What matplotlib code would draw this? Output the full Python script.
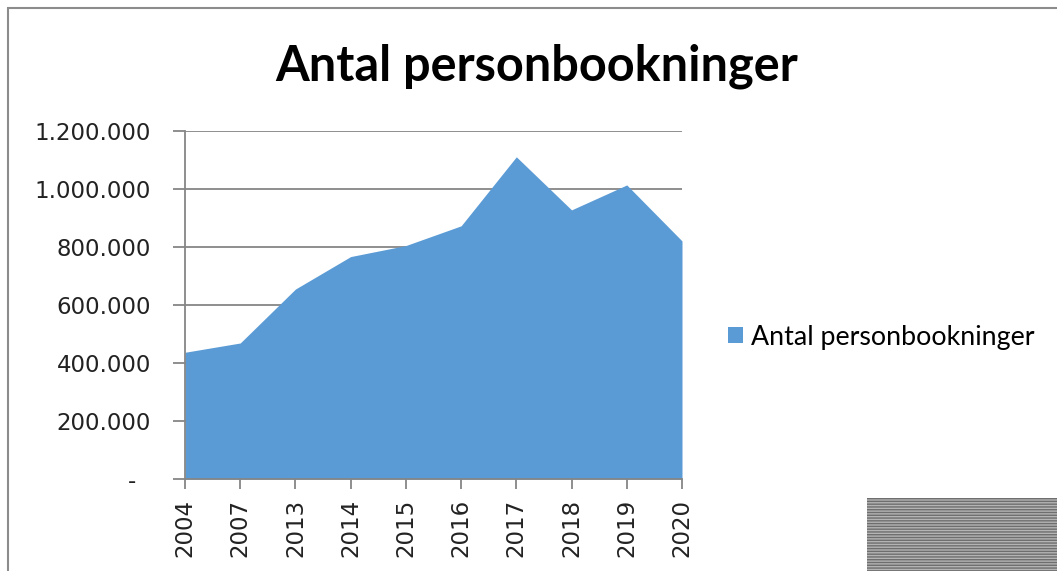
import matplotlib
matplotlib.use('Agg')
import matplotlib.pyplot as plt
from matplotlib.patches import Rectangle, Patch
from matplotlib.ticker import FuncFormatter

years = ['2004', '2007', '2013', '2014', '2015', '2016', '2017', '2018', '2019', '2020']
bookings = [437000, 469000, 655000, 767000, 805000, 873000, 1111000, 928000, 1014000, 821000]
y_ticks = [0, 200000, 400000, 600000, 800000, 1000000, 1200000]
title = 'Antal personbookninger'
series_name = 'Antal personbookninger'

fill_color = '#5B9BD5'
grid_color = '#868686'

W, H = 1057, 571
fig = plt.figure(figsize=(W / 100, H / 100), dpi=100)

# outer chart frame (only top and left visible in the crop)
fig.patches.append(Rectangle((8 / W, -0.1), 1.2, 1 - 8 / H + 0.1, transform=fig.transFigure,
                             fill=False, edgecolor='#8c8c8c', linewidth=1.5))
# striped block in the bottom right corner
fig.patches.append(Rectangle((867 / W, 0), 1 - 867 / W, 73 / H, transform=fig.transFigure,
                             facecolor='#b4b4b4', edgecolor='#6e6e6e', hatch='------',
                             linewidth=0))

ax = fig.add_axes([185 / W, 1 - 479 / H, (682 - 185) / W, (479 - 131) / H])
x = list(range(len(years)))
ax.fill_between(x, bookings, 0, color=fill_color, linewidth=0, zorder=2)

ax.set_xlim(0, len(years) - 1)
ax.set_ylim(0, 1200000)
ax.set_xticks(x)
ax.set_xticklabels(years, rotation=90, fontsize=16.5, family='DejaVu Sans')
ax.set_yticks(y_ticks)


def fmt(v, pos):
    if v == 0:
        return '-  '
    return f'{int(v):,}'.replace(',', '.')


ax.yaxis.set_major_formatter(FuncFormatter(fmt))
for lab in ax.get_yticklabels():
    lab.set_fontsize(16.5)

ax.grid(axis='y', color=grid_color, linewidth=1.3, zorder=1)
ax.set_axisbelow(True)
for s in ['top', 'right']:
    ax.spines[s].set_visible(False)
for s in ['left', 'bottom']:
    ax.spines[s].set_color(grid_color)
    ax.spines[s].set_linewidth(1.3)
ax.tick_params(axis='y', length=8.5, color=grid_color, width=1.3, pad=16, labelcolor='#222222')
ax.tick_params(axis='x', length=7.5, color=grid_color, width=1.3, pad=7, labelcolor='#222222')

fig.text(537 / W, 1 - 66 / H, title, ha='center', va='center', fontsize=35,
         fontweight='bold', family='Lato')

handle = Patch(facecolor=fill_color, edgecolor='none')
fig.legend([handle], [series_name], loc='center left', bbox_to_anchor=(728 / W, 1 - 337 / H),
           frameon=False, prop={'family': 'Lato', 'size': 19.3}, handlelength=0.55,
           handleheight=0.55, handletextpad=0.3, borderaxespad=0, borderpad=0)

fig.savefig('out.png', dpi=100)
